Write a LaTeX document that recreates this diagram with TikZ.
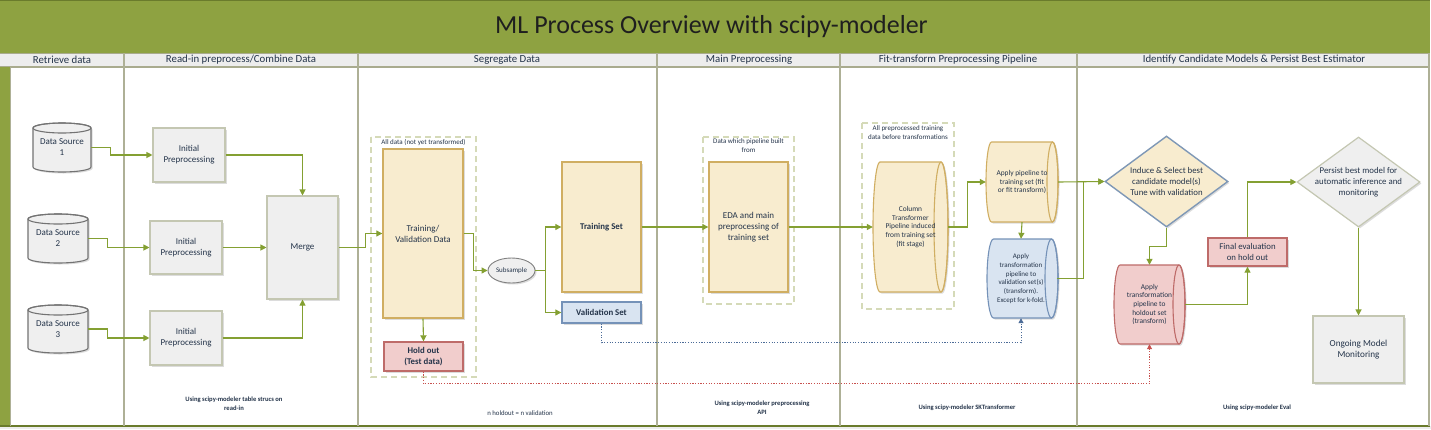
\documentclass[tikz,border=0pt]{standalone}
\usepackage{fontspec}
\setmainfont{Carlito}
\usetikzlibrary{shapes.geometric,arrows.meta,shadows,calc}
\definecolor{titlegreen}{HTML}{8EA241}
\definecolor{titleedge}{HTML}{6A7B2C}
\definecolor{headfill}{HTML}{EDEDED}
\definecolor{headline}{HTML}{A9AB8E}
\definecolor{lanediv}{HTML}{AEB096}
\definecolor{txt}{HTML}{24344A}
\definecolor{conngreen}{HTML}{84A032}
\definecolor{grayfill}{HTML}{EFEFEF}
\definecolor{grayline}{HTML}{C4C7B2}
\definecolor{tanfill}{HTML}{F8ECCF}
\definecolor{tanline}{HTML}{D0AE62}
\definecolor{redfill}{HTML}{F1CDCC}
\definecolor{redline}{HTML}{BE6B69}
\definecolor{bluefill}{HTML}{D9E4F1}
\definecolor{blueline}{HTML}{7592B8}
\definecolor{diablue}{HTML}{7F98B6}
\definecolor{dashline}{HTML}{D5DAB8}
\definecolor{dotblue}{HTML}{4C6C98}
\definecolor{dotred}{HTML}{C8504E}
\newcommand{\VCyl}[7]{%
  \path[fill=#1, draw=#2, cylline, shadowed] (#3,#4+#7) -- (#3,#6-#7)
    arc[start angle=180, end angle=0, x radius={(#5-#3)/2}, y radius=#7]
    -- (#5,#4+#7)
    arc[start angle=0, end angle=-180, x radius={(#5-#3)/2}, y radius=#7] -- cycle;
  \draw[draw=#2, cylline] ({(#3+#5)/2},#4+#7) ellipse[x radius={(#5-#3)/2}, y radius=#7];}
\newcommand{\HCyl}[7]{%
  \path[fill=#1, draw=#2, cylline, shadowed] (#3+#7,#4) -- (#5-#7,#4)
    arc[start angle=-90, end angle=90, x radius=#7, y radius={(#6-#4)/2}]
    -- (#3+#7,#6)
    arc[start angle=90, end angle=270, x radius=#7, y radius={(#6-#4)/2}] -- cycle;
  \draw[draw=#2, cylline] (#5-#7,{(#4+#6)/2}) ellipse[x radius=#7, y radius={(#6-#4)/2}];}
\begin{document}
\begin{tikzpicture}[x=1pt,y=-1pt,
  shadowed/.style={drop shadow={shadow xshift=1.5pt, shadow yshift=-1.5pt, opacity=0.3, fill=black!45}},
  cylline/.style={line width=1.1pt},
  txtnode/.style={text=txt, align=center, inner sep=0pt},
  hdr/.style={txtnode, font=\fontsize{10.8}{12}\selectfont},
  proc/.style={rectangle, txtnode, line width=1.1pt, font=\fontsize{9}{11}\selectfont, shadowed},
  grayproc/.style={proc, fill=grayfill, draw=grayline},
  tanproc/.style={proc, fill=tanfill, draw=tanline, line width=1.4pt},
  redproc/.style={proc, fill=redfill, draw=redline, line width=1.4pt},
  blueproc/.style={proc, fill=bluefill, draw=blueline, line width=1.4pt},
  cyltext/.style={rectangle, txtnode, font=\fontsize{7.4}{8.7}\selectfont},
  dsbox/.style={rectangle, txtnode, font=\fontsize{9}{11}\selectfont},
  dashbox/.style={draw=dashline, line width=1.1pt, dash pattern=on 6pt off 4pt},
  smalllbl/.style={txtnode, font=\fontsize{7}{8.8}\selectfont},
  botlbl/.style={txtnode, font=\bfseries\fontsize{6.6}{8.6}\selectfont},
  conn/.style={draw=conngreen, line width=1.1pt, -{Triangle[length=6pt,width=6pt]}},
  dotconn/.style={line width=0.9pt, dash pattern=on 1.2pt off 1.5pt, -{Triangle[length=5pt,width=5pt]}},
  dlabel/.style={txtnode, font=\fontsize{8.8}{11.3}\selectfont}
]
\useasboundingbox (0,0) rectangle (1431,429);
% ---------- frame ----------
\fill[white] (0,0) rectangle (1431,429);
\fill[titlegreen] (0,0) rectangle (1430,53);
\draw[titleedge, line width=1pt] (0,0.5) -- (1430,0.5);
\node[txtnode, text=black!88, font=\fontsize{26}{29}\selectfont] (title) at (711.5,27) {ML Process Overview with scipy-modeler};
\fill[headfill] (0,53) rectangle (1430,67);
\draw[headline, line width=1pt] (0,53) -- (1430,53);
\draw[headline, line width=1.2pt] (0,67) -- (1430,67);
\fill[titlegreen] (0,67) rectangle (10,426);
\fill[headfill] (0,426) rectangle (1431,429);
\draw[titleedge, line width=1.2pt] (0,426) -- (1430,426);
\foreach \xx in {124,358,657,840,1077,1429}{
  \draw[lanediv, line width=1.3pt] (\xx,53) -- (\xx,426);
}
\draw[lanediv, line width=1pt] (10,67) -- (10,426);
\node[hdr] (h1) at (62,60) {Retrieve data};
\node[hdr] (h2) at (241,60) {Read-in preprocess/Combine Data};
\node[hdr] (h3) at (507,60) {Segregate Data};
\node[hdr] (h4) at (749,60) {Main Preprocessing};
\node[hdr] (h5) at (958,60) {Fit-transform Preprocessing Pipeline};
\node[hdr] (h6) at (1254,60) {Identify Candidate Models \& Persist Best Estimator};
% ---------- dashed groups ----------
\draw[dashbox] (371,137) rectangle (476,377);
\node[smalllbl] (g1) at (423.5,142) {All data (not yet transformed)};
\draw[dashbox] (703,137) rectangle (794,304);
\node[smalllbl] (g2) at (748.5,145.5) {Data which pipeline built\\from};
\draw[dashbox] (862,123) rectangle (954,309);
\node[smalllbl] (g3) at (908,132.5) {All preprocessed training\\data before transformations};
% ---------- retrieve ----------
\VCyl{grayfill}{black!55}{33}{123}{91}{172}{5}
\node[dsbox, minimum width=58pt, minimum height=49pt] (ds1) at (62,147.5) {Data Source\\1};
\VCyl{grayfill}{black!55}{28}{214}{88}{263}{5}
\node[dsbox, minimum width=60pt, minimum height=49pt] (ds2) at (58,238.5) {Data Source\\2};
\VCyl{grayfill}{black!55}{28}{305}{88}{353}{5}
\node[dsbox, minimum width=60pt, minimum height=48pt] (ds3) at (58,329) {Data Source\\3};
% ---------- read-in ----------
\node[grayproc, minimum width=72pt, minimum height=54pt] (ip1) at (189,155) {Initial\\Preprocessing};
\node[grayproc, minimum width=72pt, minimum height=53pt] (ip2) at (186,247.5) {Initial\\Preprocessing};
\node[grayproc, minimum width=72pt, minimum height=54pt] (ip3) at (186,338) {Initial\\Preprocessing};
\node[grayproc, minimum width=71pt, minimum height=103pt] (merge) at (302.5,247.5) {Merge};
% ---------- segregate ----------
\node[tanproc, minimum width=80pt, minimum height=169pt] (tv) at (423,233.5) {Training/\\Validation Data};
\node[redproc, font=\bfseries\fontsize{8.8}{11}\selectfont, minimum width=79pt, minimum height=29pt] (hold) at (423.5,356.5) {Hold out\\(Test data)};
\node[ellipse, txtnode, draw=black!50, fill=grayfill, line width=0.9pt, shadowed, font=\fontsize{7}{8}\selectfont, minimum width=47pt, minimum height=25pt] (sub) at (511.5,270.5) {Subsample};
\node[tanproc, font=\bfseries\fontsize{8.8}{11}\selectfont, minimum width=79pt, minimum height=130pt] (trs) at (601.5,227) {Training Set};
\node[blueproc, font=\bfseries\fontsize{8.8}{11}\selectfont, minimum width=79pt, minimum height=21pt] (vs) at (601.5,312.5) {Validation Set};
% ---------- main preprocessing ----------
\node[tanproc, minimum width=79pt, minimum height=130pt] (eda) at (748.5,227) {EDA and main\\preprocessing of\\training set};
% ---------- fit-transform ----------
\HCyl{tanfill}{tanline}{873}{162}{948}{292}{7}
\node[cyltext, minimum width=75pt, minimum height=130pt] (ct) at (910.5,227) {Column\\Transformer\\Pipeline induced\\from training set\\(fit stage)};
\HCyl{tanfill}{tanline}{986}{142}{1058}{222}{5.5}
\node[cyltext, minimum width=72pt, minimum height=80pt] (ap) at (1022,182) {Apply pipeline to\\training set (fit\\or fit transform)};
\HCyl{bluefill}{blueline}{987}{239}{1058}{318}{6.5}
\node[cyltext, font=\fontsize{7}{8.7}\selectfont, minimum width=71pt, minimum height=79pt] (av) at (1021,278.5) {Apply\\transformation\\pipeline to\\validation set(s)\\(transform).\\Except for k-fold.};
% ---------- identify ----------
\node[diamond, draw=diablue, fill=tanfill, line width=1.4pt, shadowed, inner sep=0pt, minimum width=123pt, minimum height=91pt,
  label={[dlabel]center:{Induce \& Select best\\candidate model(s)\\Tune with validation}}] (dia1) at (1166.5,181.5) {};
\HCyl{redfill}{redline}{1114}{265}{1185}{344}{6}
\node[cyltext, minimum width=71pt, minimum height=79pt] (rc) at (1149.5,304.5) {Apply\\transformation\\pipeline to\\holdout set\\(transform)};
\node[redproc, font=\fontsize{8.8}{11}\selectfont, minimum width=79pt, minimum height=28pt] (fe) at (1247.5,252) {Final evaluation\\on hold out};
\node[diamond, draw=grayline, fill=grayfill, line width=1.2pt, shadowed, inner sep=0pt, minimum width=123pt, minimum height=90pt,
  label={[dlabel]center:{Persist best model for\\automatic inference and\\monitoring}}] (dia2) at (1358.5,182) {};
\node[grayproc, font=\fontsize{9.2}{11.2}\selectfont, minimum width=91pt, minimum height=67pt] (om) at (1358.5,349.5) {Ongoing Model\\Monitoring};
% ---------- connectors ----------
\draw[conn] (ds1.east) -- ++(19,0) |- (ip1.west);
\draw[conn] (ds2.east) -- ++(19,0) |- (ip2.west);
\draw[conn] (ds3.east) -- ++(19,0) |- (ip3.west);
\draw[conn] (ip1.east) -| (merge.north);
\draw[conn] (ip2.east) -- (merge.west);
\draw[conn] (ip3.east) -| (merge.south);
\draw[conn] (merge.east) -- ++(27,0) |- (tv.west);
\draw[conn] (tv.south) -- (hold.north);
\draw[conn] (tv.east) -- ++(10,0) |- (sub.west);
\draw[conn] (sub.east) -- ++(10,0) |- (trs.west);
\draw[conn] (sub.east) -- ++(10,0) |- (vs.west);
\draw[conn] (trs.east) -- (eda.west);
\draw[conn] (eda.east) -- (ct.west);
\draw[conn] (ct.east) -- ++(19,0) |- (ap.west);
\draw[conn] (ap.south) -- (av.north);
\draw[conn] (ap.east) -- (dia1.west);
\draw[conn] (av.east) -- ++(27,0) |- (dia1.west);
\draw[conn] (dia1.south) -- ++(0,19) -| (rc.north);
\draw[conn] (rc.east) -| (fe.south);
\draw[conn] (fe.north) |- (dia2.west);
\draw[conn] (dia2.south) -- (om.north);
\draw[dotconn, draw=dotblue] (vs.south) -- ++(0,19) -| (av.south);
\draw[dotconn, draw=dotred] (hold.south) -- ++(0,12) -| (rc.south);
% ---------- bottom notes ----------
\node[botlbl] (n1) at (234,403.5) {Using scipy-modeler table strucs on\\read-in};
\node[txtnode, font=\fontsize{6.8}{8}\selectfont] (n2) at (520,413) {n holdout = n validation};
\node[botlbl] (n3) at (762,407.5) {Using scipy-modeler preprocessing\\API};
\node[botlbl] (n4) at (967,408) {Using scipy-modeler SKTransformer};
\node[botlbl] (n5) at (1257,408) {Using scipy-modeler Eval};
\end{tikzpicture}
\end{document}
